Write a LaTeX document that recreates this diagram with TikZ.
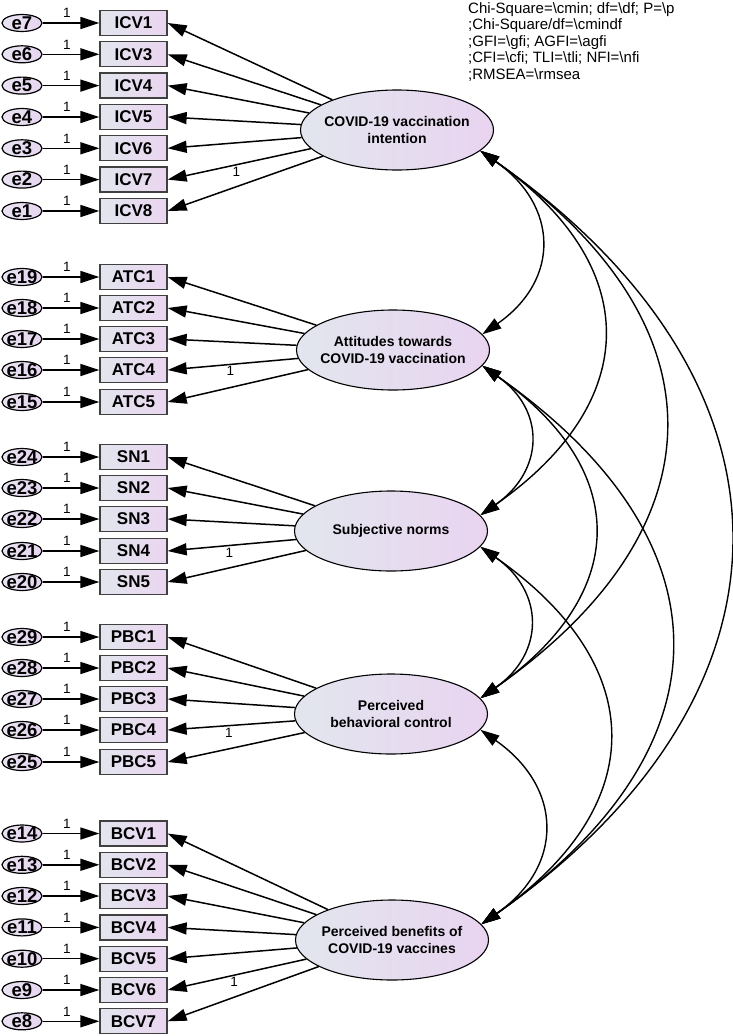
\documentclass[tikz,border=0pt]{standalone}
\usepackage{fontspec}
\setmainfont{Liberation Sans}
\usetikzlibrary{shapes.geometric,arrows.meta,shadings}
\definecolor{boxL}{HTML}{E2E6EE}
\definecolor{boxR}{HTML}{EAD5F0}
\definecolor{latL}{HTML}{E2E6EE}
\definecolor{latR}{HTML}{E9D4F0}
\definecolor{errL}{HTML}{EAE4F2}
\definecolor{errR}{HTML}{E6D5F0}
\newcommand\obsfont{\fontsize{17}{19}\selectfont\bfseries}
\newcommand\errfont{\fontsize{18.5}{20}\selectfont\bfseries}
\newcommand\latfont{\fontsize{14}{17}\selectfont\bfseries}
\newcommand\onefont{\fontsize{13.5}{15}\selectfont}
\newcommand\fitfont{\fontsize{15}{16.6}\selectfont}
\begin{document}
\begin{tikzpicture}[x=1pt,y=-1pt,
  >={Triangle[length=19pt,width=12pt]},
  obs/.style={rectangle, draw=black!75, line width=1.3pt, left color=boxL, right color=boxR,
    minimum width=67pt, minimum height=25pt, inner sep=0pt, font=\obsfont},
  err/.style={ellipse, draw=black, line width=1.2pt, left color=errL, right color=errR,
    minimum width=40pt, minimum height=17pt, inner sep=0pt},
  errlab/.style={font=\errfont, inner sep=0pt},
  lat/.style={ellipse, draw=black, line width=1.1pt, left color=latL, right color=latR,
    minimum width=193pt, minimum height=80pt, inner sep=0pt},
  latlab/.style={font=\latfont, align=center, inner sep=0pt},
  arr/.style={->, line width=1.5pt},
  cov/.style={<->, line width=1.4pt, out=-35, in=35, looseness=1.33},
  covlong/.style={cov, looseness=1.4},
  one/.style={font=\onefont, inner sep=1.5pt},
  fit/.style={font=\fitfont, align=left, inner sep=0pt, anchor=north west}
]
\useasboundingbox (0,0) rectangle (733,1036);

% latent variables
\node[lat, label={[latlab]center:COVID-19 vaccination\\intention}] (int) at (397,130) {};
\node[lat, label={[latlab]center:Attitudes towards\\COVID-19 vaccination}] (att) at (393,350) {};
\node[lat, label={[latlab]center:Subjective norms}] (sn) at (391,531) {};
\node[lat, label={[latlab]center:Perceived\\behavioral control}] (pbc) at (391,714) {};
\node[lat, label={[latlab]center:Perceived benefits of\\COVID-19 vaccines}] (ben) at (392,940) {};

% ICV
\foreach \lab/\ee/\y [count=\i] in {ICV1/e7/23,ICV3/e6/54.3,ICV4/e5/85.6,ICV5/e4/117,ICV6/e3/148.3,ICV7/e2/179.6,ICV8/e1/211}{
  \node[obs] (icv\i) at (133.5,\y) {\lab};
  \node[err, label={[errlab]center:\ee}] (\ee) at (22,\y) {};
  \draw[arr] (\ee) -- node[one, above, pos=0.43, yshift=3pt]{1} (icv\i);
}
\foreach \i in {1,2,3,4,5,7}{\draw[arr] (int) -- (icv\i.east);}
\draw[arr] (int) -- node[one, below, pos=0.52]{1} (icv6.east);

% ATC
\foreach \lab/\ee/\y [count=\i] in {ATC1/e19/277,ATC2/e18/308,ATC3/e17/339,ATC4/e16/370,ATC5/e15/402}{
  \node[obs] (atc\i) at (133.5,\y) {\lab};
  \node[err, label={[errlab]center:\ee}] (\ee) at (22,\y) {};
  \draw[arr] (\ee) -- node[one, above, pos=0.43, yshift=3pt]{1} (atc\i);
}
\foreach \i in {1,2,3,5}{\draw[arr] (att) -- (atc\i.east);}
\draw[arr] (att) -- node[one, below, pos=0.52]{1} (atc4.east);

% SN
\foreach \lab/\ee/\y [count=\i] in {SN1/e24/457,SN2/e23/488,SN3/e22/519,SN4/e21/551,SN5/e20/582}{
  \node[obs] (snb\i) at (133.5,\y) {\lab};
  \node[err, label={[errlab]center:\ee}] (\ee) at (22,\y) {};
  \draw[arr] (\ee) -- node[one, above, pos=0.43, yshift=3pt]{1} (snb\i);
}
\foreach \i in {1,2,3,5}{\draw[arr] (sn) -- (snb\i.east);}
\draw[arr] (sn) -- node[one, below, pos=0.52]{1} (snb4.east);

% PBC
\foreach \lab/\ee/\y [count=\i] in {PBC1/e29/637,PBC2/e28/668,PBC3/e27/699,PBC4/e26/730,PBC5/e25/762}{
  \node[obs] (pbcb\i) at (133.5,\y) {\lab};
  \node[err, label={[errlab]center:\ee}] (\ee) at (22,\y) {};
  \draw[arr] (\ee) -- node[one, above, pos=0.43, yshift=3pt]{1} (pbcb\i);
}
\foreach \i in {1,2,3,5}{\draw[arr] (pbc) -- (pbcb\i.east);}
\draw[arr] (pbc) -- node[one, below, pos=0.52]{1} (pbcb4.east);

% BCV
\foreach \lab/\ee/\y [count=\i] in {BCV1/e14/833.5,BCV2/e13/864.8,BCV3/e12/896,BCV4/e11/927.4,BCV5/e10/958.7,BCV6/e9/990,BCV7/e8/1021.3}{
  \node[obs] (bcv\i) at (133.5,\y) {\lab};
  \node[err, label={[errlab]center:\ee}] (\ee) at (22,\y) {};
  \draw[arr] (\ee) -- node[one, above, pos=0.43, yshift=3pt]{1} (bcv\i);
}
\foreach \i in {1,2,3,4,5,7}{\draw[arr] (ben) -- (bcv\i.east);}
\draw[arr] (ben) -- node[one, below, pos=0.52]{1} (bcv6.east);

% covariances
\draw[cov] (int.-14) to (att.10);
\draw[covlong] (int.-14) to (sn.10);
\draw[covlong] (int.-14) to (pbc.10);
\draw[cov, looseness=1.34] (int.-14) to (ben.10);
\draw[cov] (att.-10) to (sn.10);
\draw[covlong] (att.-10) to (pbc.10);
\draw[covlong] (att.-10) to (ben.10);
\draw[cov] (sn.-10) to (pbc.10);
\draw[covlong] (sn.-10) to (ben.10);
\draw[cov] (pbc.-10) to (ben.10);

% fit statistics
\node[fit] (fitstats) at (468,2) {Chi-Square=\textbackslash cmin; df=\textbackslash df; P=\textbackslash p\\
;Chi-Square/df=\textbackslash cmindf\\
;GFI=\textbackslash gfi; AGFI=\textbackslash agfi\\
;CFI=\textbackslash cfi; TLI=\textbackslash tli; NFI=\textbackslash nfi\\
;RMSEA=\textbackslash rmsea};
\end{tikzpicture}
\end{document}
